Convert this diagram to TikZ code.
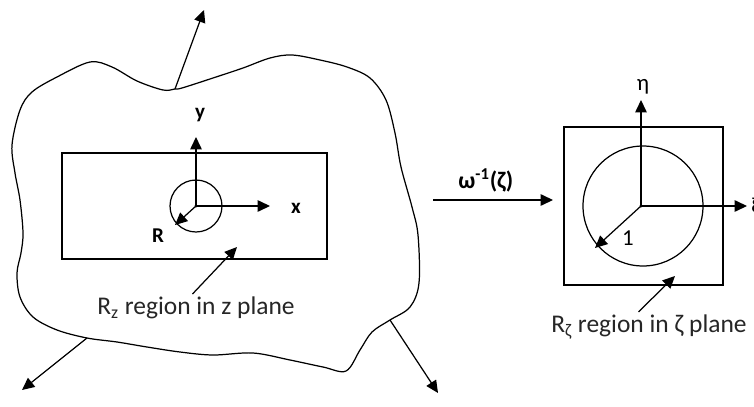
\documentclass[tikz,border=0pt]{standalone}
\usepackage{fontspec}
\setmainfont{Carlito}
\usetikzlibrary{arrows.meta,positioning}

\begin{document}
\begin{tikzpicture}[x=0.02cm,y=-0.02cm,line width=0.7pt,font=\fontsize{14.5}{17}\selectfont,
    arr/.style={-{Triangle[length=7pt,width=6.5pt]}},
    axlab/.style={font=\fontsize{12}{14}\selectfont\bfseries,inner sep=1pt},
    gklab/.style={font=\fontsize{13}{15}\selectfont,inner sep=1pt}]
    \useasboundingbox (0,0) rectangle (754,406);

    % z plane: outer boundary
    \draw plot[smooth cycle,tension=0.55] coordinates {
        (12,145) (20,110) (32,92) (57,77) (90,62) (112,67) (137,81) (163,90) (175,89)
        (182,88) (213,78) (243,68) (270,58) (292,55) (320,60) (347,67) (370,78)
        (386,100) (395,133) (401,167) (412,207) (418,235) (419,283) (410,307)
        (390,320) (372,332) (360,350) (346,371) (323,367) (290,360) (253,353)
        (213,355) (180,352) (147,347) (117,342) (87,338) (57,330) (33,317)
        (20,297) (17,273) (21,253) (23,233) (20,200) (15,173)};
    \coordinate (btop) at (175,89);
    \coordinate (bleft) at (87,338);
    \coordinate (bright) at (390,320);
    \coordinate (otop) at (204,10);
    \coordinate (oleft) at (22,390);
    \coordinate (oright) at (438,393);
    \draw[arr] (btop) -- (otop);
    \draw[arr] (bleft) -- (oleft);
    \draw[arr] (bright) -- (oright);

    % z plane: rectangle, circle and axes
    \coordinate (zo) at (196,206);
    \node[draw,minimum width=5.3cm,minimum height=2.12cm,inner sep=0pt] (zrect) at (194.5,206) {};
    \node[draw,circle,minimum size=1.04cm,inner sep=0pt] (zcirc) at (zo) {};
    \fill (zo) circle[radius=1.6];
    \coordinate (zy) at (196,137);
    \coordinate (zx) at (270,206);
    \coordinate (zr) at (175,225);
    \draw[arr] (zo) -- (zy);
    \draw[arr] (zo) -- (zx);
    \draw[arr] (zo) -- (zr);
    \node[axlab] (ylab) at (200,115) {y};
    \node[axlab] (xlab) at (296,208) {x};
    \node[axlab] (rlab) at (158,236) {R};
    \node[text=black!85] (zlab) at (196,308) {R\textsubscript{z} region in z plane};
    \coordinate (zp) at (237,247);
    \draw[arr] ([xshift=-2pt,yshift=-2pt]zlab.north) -- (zp);

    % mapping
    \coordinate (ms) at (433,200);
    \coordinate (me) at (553,200);
    \draw[arr] (ms) -- node[above=3pt,pos=0.44,axlab,font=\fontsize{13.5}{15}\selectfont\bfseries] (wlab) {ω\textsuperscript{-1}(ζ)} (me);

    % zeta plane
    \coordinate (wo) at (641,206);
    \node[draw,minimum width=3.18cm,minimum height=3.16cm,inner sep=0pt] (wsq) at (643.5,206) {};
    \node[draw,circle,minimum size=2.4cm,inner sep=0pt] (wcirc) at (643,206) {};
    \fill (wo) circle[radius=1.6];
    \coordinate (weta) at (641,100);
    \coordinate (wxi) at (747,206);
    \coordinate (wr) at (595,248);
    \draw[arr] (wo) -- (weta);
    \draw[arr] (wo) -- (wxi);
    \draw[arr] (wo) -- (wr);
    \node[gklab] (etalab) at (643,87) {η};
    \node[gklab,anchor=west] (xilab) at (749,208) {ξ};
    \node[gklab] (onelab) at (628,238) {1};
    \node[text=black!85] (wlab2) at (649,327) {R\textsubscript{ζ} region in ζ plane};
    \coordinate (wp) at (675,276);
    \draw[arr] ([xshift=-6pt,yshift=-2pt]wlab2.north) -- (wp);
\end{tikzpicture}
\end{document}
